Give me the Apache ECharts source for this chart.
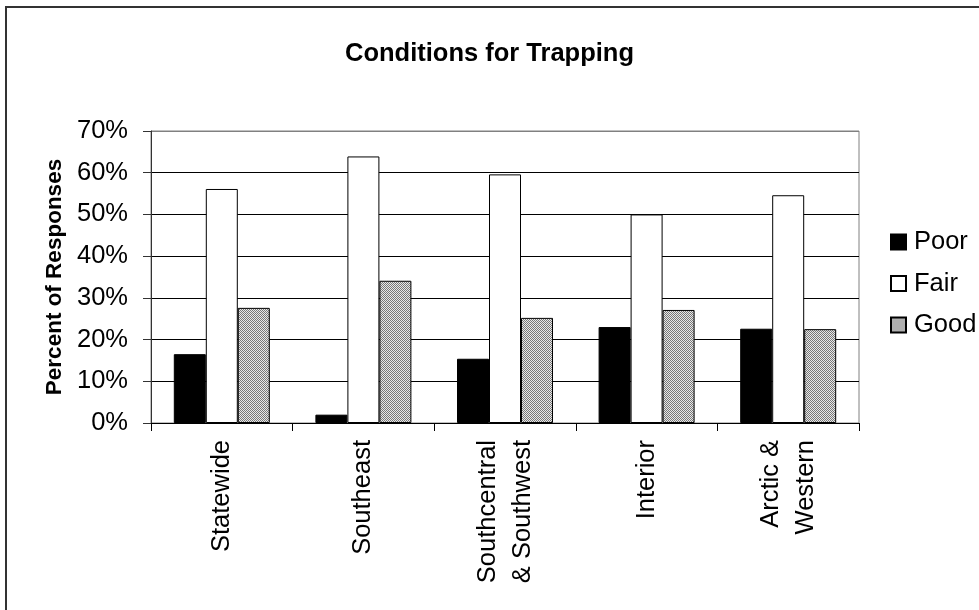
<!DOCTYPE html>
<html>
<head>
<meta charset="utf-8">
<script src="https://cdn.jsdelivr.net/npm/echarts@6/dist/echarts.min.js"></script>
<style>
html,body{margin:0;padding:0;background:#fff;}
#c{width:979px;height:610px;}
</style>
</head>
<body>
<div id="c"></div>
<script>
var categories = ['Statewide', 'Southeast', 'Southcentral\n& Southwest', 'Interior', 'Arctic &\nWestern'];
var poor = [16.5, 2.0, 15.4, 23.0, 22.6];
var fair = [56.1, 63.9, 59.6, 50.0, 54.6];
var good = [27.6, 34.1, 25.2, 27.1, 22.5];
var yTicks = [0, 10, 20, 30, 40, 50, 60, 70];

var FONT = 'Liberation Sans, Arial, sans-serif';

// dithered gray pattern for "Good"
var pc = document.createElement('canvas');
pc.width = 2; pc.height = 2;
var px = pc.getContext('2d');
px.fillStyle = '#e8e8e8'; px.fillRect(0, 0, 2, 2);
px.fillStyle = '#777777'; px.fillRect(0, 0, 1, 1); px.fillRect(1, 1, 1, 1);
var goodFill = { image: pc, repeat: 'repeat' };

var chart = echarts.init(document.getElementById('c'), null, { renderer: 'canvas' });
var barBase = { type: 'bar', barWidth: 32, barGap: '0%' };
chart.setOption({
  animation: false,
  backgroundColor: '#fff',
  title: {
    text: 'Conditions for Trapping', left: 'center', top: 36,
    textStyle: { fontFamily: FONT, fontWeight: 'bold', fontSize: 25.5, color: '#000' }
  },
  legend: {
    orient: 'vertical', left: 890, top: 229, padding: 0,
    itemWidth: 15, itemHeight: 15, itemGap: 15.5,
    icon: 'rect',
    textStyle: { fontFamily: FONT, fontSize: 25.5, color: '#000', lineHeight: 25, padding: [0, 0, 0, 3] },
    data: ['Poor', 'Fair', 'Good']
  },
  graphic: [{
    type: 'rect', shape: { x: 6, y: 7, width: 1100, height: 1100 },
    style: { fill: 'none', stroke: '#333', lineWidth: 2 }, silent: true
  }],
  grid: { left: 151, top: 131, width: 708, height: 292, show: true, borderColor: '#808080', borderWidth: 1, backgroundColor: 'transparent' },
  xAxis: {
    type: 'category', data: categories,
    axisLine: { lineStyle: { color: '#000', width: 1 } },
    axisTick: { show: true, length: 8, lineStyle: { color: '#000' } },
    axisLabel: { rotate: 90, fontFamily: FONT, fontSize: 25.5, color: '#000', margin: 17, lineHeight: 35, interval: 0 }
  },
  yAxis: {
    type: 'value', min: 0, max: 70, interval: 10,
    name: 'Percent of Responses', nameLocation: 'middle', nameGap: 45,
    nameTextStyle: { fontFamily: FONT, fontWeight: 'bold', fontSize: 22.5, color: '#000' },
    axisLine: { show: true, lineStyle: { color: '#333', width: 1 } },
    axisTick: { show: true, length: 8, inside: false, lineStyle: { color: '#333' } },
    axisLabel: { formatter: function (v) { return yTicks.indexOf(v) >= 0 ? v + '%' : ''; }, fontFamily: FONT, fontSize: 25.5, color: '#000', margin: 23 },
    splitLine: { show: true, lineStyle: { color: ['#000', '#000', '#000', '#000', '#000', '#000', '#000', '#808080'], width: 1 } }
  },
  series: [
    Object.assign({ name: 'Poor', data: poor, itemStyle: { color: '#000', borderColor: '#000', borderWidth: 1 } }, barBase),
    Object.assign({ name: 'Fair', data: fair, itemStyle: { color: '#fff', borderColor: '#000', borderWidth: 1 } }, barBase),
    Object.assign({ name: 'Good', data: good, itemStyle: { color: goodFill, borderColor: '#000', borderWidth: 1 } }, barBase)
  ]
});
</script>
</body>
</html>
